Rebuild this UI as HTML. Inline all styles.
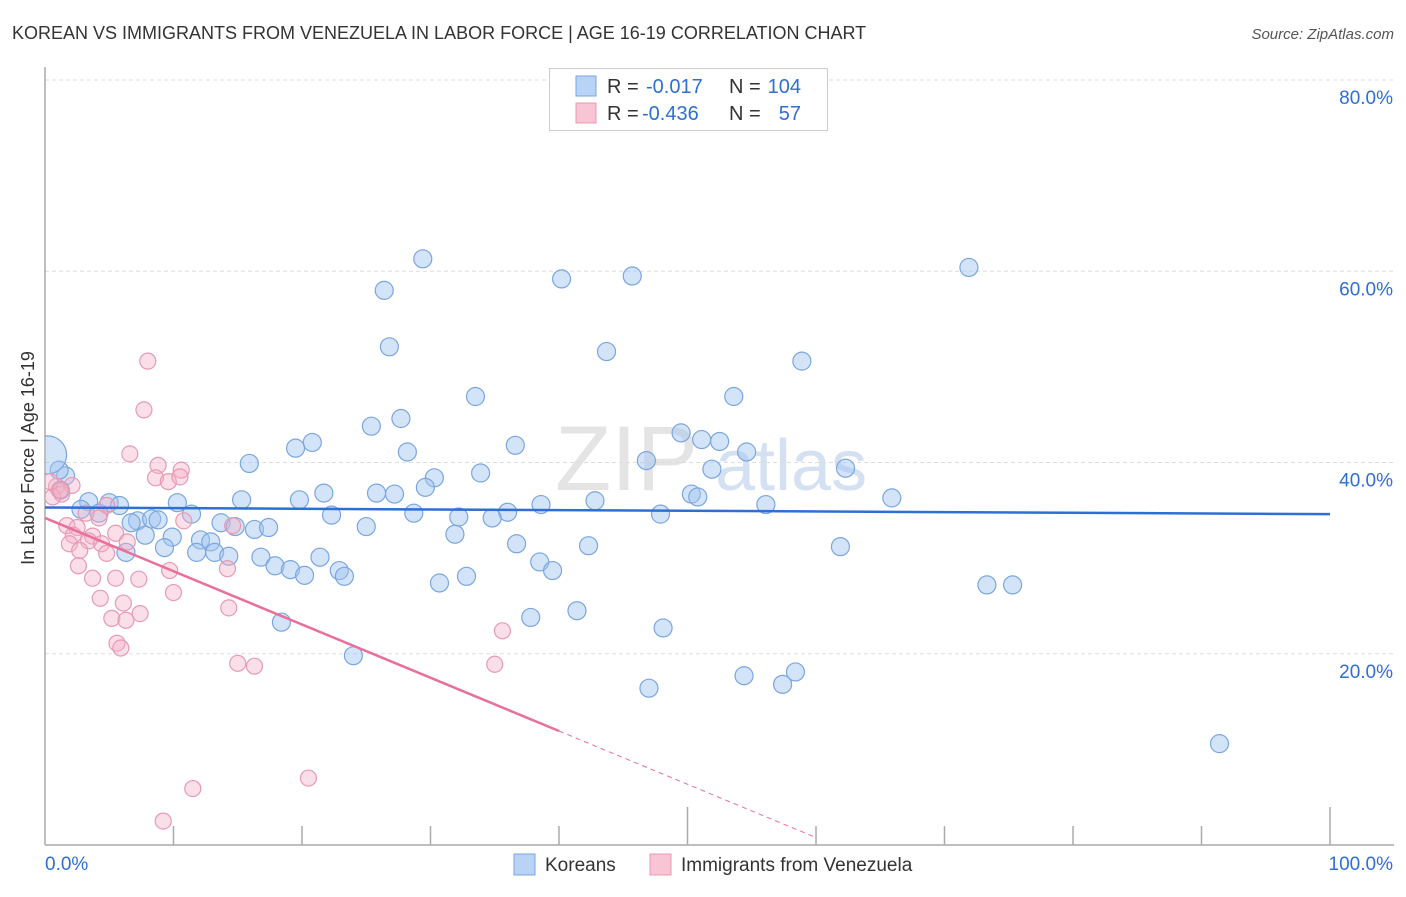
<!DOCTYPE html>
<html><head><meta charset="utf-8"><style>
body{margin:0;background:#fff;font-family:"Liberation Sans",sans-serif}
svg text{font-family:"Liberation Sans",sans-serif}
</style></head><body>
<svg id="c" width="1406" height="892" xmlns="http://www.w3.org/2000/svg">
<defs><clipPath id="plot"><rect x="45" y="60" width="1360" height="785"/></clipPath></defs>
<text x="12" y="39" font-size="18" fill="#333">KOREAN VS IMMIGRANTS FROM VENEZUELA IN LABOR FORCE | AGE 16-19 CORRELATION CHART</text>
<text x="1394" y="39" font-size="15" fill="#555" text-anchor="end" font-style="italic">Source: ZipAtlas.com</text>
<text x="555" y="490" font-size="92" fill="#e4e4e4" font-family="Liberation Serif">ZIP</text>
<text x="715" y="490" font-size="72" fill="#d4e1f3">atlas</text>
<g id="grid"></g><g id="axes"></g><g id="pts" clip-path="url(#plot)"></g><g id="trend"></g>
<text transform="translate(34,458) rotate(-90)" font-size="18" fill="#333" text-anchor="middle">In Labor Force | Age 16-19</text>
<g>
<rect x="549.5" y="68.5" width="278" height="62" fill="#fff" stroke="#ccc"/>
<rect x="576" y="76" width="20" height="20" fill="#b8d3f5" stroke="#7aa6e0"/>
<rect x="576" y="103" width="20" height="20" fill="#f9c4d4" stroke="#e89ab2"/>
<text x="607" y="93" font-size="20" fill="#333">R =</text>
<text x="646" y="93" font-size="20" fill="#2e6fd6">-0.017</text>
<text x="729" y="93" font-size="20" fill="#333">N =</text>
<text x="801" y="93" font-size="20" fill="#2e6fd6" text-anchor="end">104</text>
<text x="607" y="120" font-size="20" fill="#333">R =</text>
<text x="642" y="120" font-size="20" fill="#2e6fd6">-0.436</text>
<text x="729" y="120" font-size="20" fill="#333">N =</text>
<text x="801" y="120" font-size="20" fill="#2e6fd6" text-anchor="end">57</text>
</g>
<g>
<rect x="514" y="854" width="21" height="21" fill="#b8d3f5" stroke="#7aa6e0"/>
<text x="545" y="871" font-size="19" fill="#333">Koreans</text>
<rect x="650" y="854" width="21" height="21" fill="#f9c4d4" stroke="#e89ab2"/>
<text x="681" y="871" font-size="19" fill="#333">Immigrants from Venezuela</text>
</g>
</svg>
<script>
const yTicks=[20,40,60,80];
const yTickLabels=["20.0%","40.0%","60.0%","80.0%"];
const xTicks=[0,10,20,30,40,50,60,70,80,90,100];
const koreanX=[29.4,71.9,45.7,40.2,26.4,26.8,43.7,58.9,33.5,53.6,27.7,25.4,49.5,20.8,19.5,36.6,51.1,52.5,28.2,54.6,46.8,15.9,62.3,51.9,33.9,30.3,29.6,1.6,21.7,25.8,27.2,50.3,50.8,65.9,15.3,19.8,3.4,10.3,42.8,5.0,5.8,2.8,38.6,56.1,4.2,11.4,22.3,28.7,36.0,47.9,32.2,34.8,7.2,8.3,8.8,6.7,13.7,14.8,25.0,16.3,17.4,7.8,9.9,31.9,12.1,12.9,36.7,42.3,61.9,9.3,6.3,11.8,13.2,14.3,16.8,21.4,38.5,17.9,19.1,22.9,39.5,20.2,23.3,32.8,30.7,73.3,75.3,41.4,37.8,18.4,48.1,24.0,58.4,54.4,57.4,47.0,91.4,1.1,1.2];
const koreanY=[61.3,60.4,59.5,59.2,58.0,52.1,51.6,50.6,46.9,46.9,44.6,43.8,43.1,42.1,41.5,41.8,42.4,42.2,41.1,41.1,40.2,39.9,39.4,39.3,38.9,38.4,37.4,38.6,36.8,36.8,36.7,36.7,36.4,36.3,36.1,36.1,35.9,35.8,36.0,35.8,35.5,35.1,35.6,35.6,34.7,34.6,34.5,34.7,34.8,34.6,34.3,34.2,33.9,34.1,34.0,33.7,33.7,33.3,33.3,33.0,33.2,32.4,32.2,32.5,31.9,31.7,31.5,31.3,31.2,31.1,30.6,30.6,30.6,30.2,30.1,30.1,29.6,29.2,28.8,28.7,28.7,28.2,28.1,28.1,27.4,27.2,27.2,24.5,23.8,23.3,22.7,19.8,18.1,17.7,16.8,16.4,10.6,39.2,37.1];
const venX=[8.0,7.7,6.6,8.8,10.6,8.6,9.6,10.5,0.9,2.1,0.4,1.3,0.6,4.8,3.2,4.2,10.8,1.7,2.5,14.6,2.2,3.7,5.5,3.4,1.9,4.4,2.7,4.8,6.4,2.6,9.7,14.2,3.7,5.5,7.3,10.0,4.3,6.1,14.3,7.4,5.2,6.3,35.6,5.6,5.9,15.0,16.3,35.0,20.5,11.5,9.2,1.2];
const venY=[50.6,45.5,40.9,39.7,39.2,38.4,38.0,38.5,37.5,37.6,38.0,36.7,36.4,35.5,34.7,34.2,33.9,33.4,33.2,33.4,32.4,32.3,32.6,31.8,31.5,31.5,30.8,30.5,31.7,29.2,28.7,28.9,27.9,27.9,27.8,26.4,25.8,25.3,24.8,24.2,23.7,23.5,22.4,21.1,20.6,19.0,18.7,18.9,7.0,5.9,2.5,37.1];
const bigX=[0.2], bigY=[40.8];
const koreanTrend=[35.3,34.6];
const venTrend=[34.2,-0.557];
const X=v=>45+v*12.85, Y=v=>845-v*9.5625;
const NS="http://www.w3.org/2000/svg";
function mk(tag,attrs,parent){const e=document.createElementNS(NS,tag);for(const k in attrs)e.setAttribute(k,attrs[k]);document.getElementById(parent).appendChild(e);return e;}
yTicks.forEach((t,i)=>{
 const g=mk('line',{x1:45,x2:1394,y1:Y(t),y2:Y(t),stroke:'#ddd','stroke-dasharray':'4,3'},'grid');
 
 
 const l=mk('text',{x:1393,y:Y(t)+24,'font-size':19,fill:'#2e6fd6','text-anchor':'end'},'grid');
 l.textContent=yTickLabels[i];
 
 
});
let a=mk('line',{x1:45,x2:45,y1:67,y2:845,stroke:'#aaa','stroke-width':1.5},'axes');


a=mk('line',{x1:45,x2:1394,y1:845,y2:845,stroke:'#aaa','stroke-width':1.5},'axes');


xTicks.forEach(t=>{
 if(t===0) return;
 const len=(t%50===0)?38:19;
 const e=mk('line',{x1:X(t),x2:X(t),y1:845-len,y2:845,stroke:'#aaa','stroke-width':1.5},'axes');
 
 
});
let tl=mk('text',{x:45,y:870,'font-size':19,fill:'#2e6fd6'},'axes');tl.textContent='0.0%';


tl=mk('text',{x:1393,y:870,'font-size':19,fill:'#2e6fd6','text-anchor':'end'},'axes');tl.textContent='100.0%';


koreanX.forEach((x,i)=>{
 const c=mk('circle',{cx:X(x),cy:Y(koreanY[i]),r:9,fill:'rgba(160,195,240,0.45)',stroke:'#7aa6e0','stroke-width':1.2},'pts');
 
 
});
bigX.forEach((x,i)=>{
 const big=mk('circle',{cx:X(x),cy:Y(bigY[i]),r:19,fill:'rgba(160,195,240,0.45)',stroke:'#7aa6e0','stroke-width':1.2},'pts');
 
 
});
venX.forEach((x,i)=>{
 const c=mk('circle',{cx:X(x),cy:Y(venY[i]),r:8,fill:'rgba(246,175,198,0.4)',stroke:'#e89ab2','stroke-width':1.2},'pts');
 
 
});
let t=mk('line',{x1:X(0),y1:Y(koreanTrend[0]),x2:X(100),y2:Y(koreanTrend[1]),stroke:'#2e6fd6','stroke-width':2.5},'trend');


const vy=x=>venTrend[0]+venTrend[1]*x;
t=mk('line',{x1:X(0),y1:Y(vy(0)),x2:X(40),y2:Y(vy(40)),stroke:'#e8709a','stroke-width':2.5},'trend');


t=mk('line',{x1:X(40),y1:Y(vy(40)),x2:X(60),y2:Y(vy(60)),stroke:'#e8709a','stroke-width':1,'stroke-dasharray':'5,4'},'trend');


</script>
</body></html>
